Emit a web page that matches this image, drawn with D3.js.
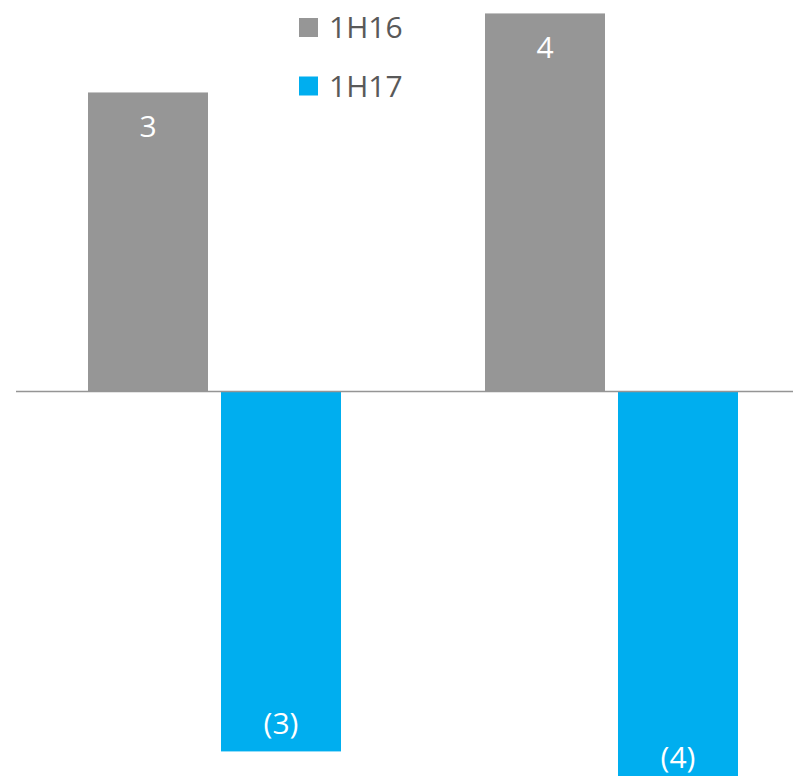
<!DOCTYPE html>
<html>
<head>
<meta charset="utf-8">
<script src="https://cdn.jsdelivr.net/npm/d3@7"></script>
<style>
  html, body { margin: 0; padding: 0; background: #ffffff; }
  svg { display: block; }
</style>
</head>
<body>
<svg id="chart" width="793" height="776"></svg>
<script>
// Half-year comparison, two groups of paired bars
const categories = ["Group A", "Group B"];
const seriesNames = ["1H16", "1H17"];
const values1H16 = [2.8, 3.54];
const values1H17 = [-3.37, -3.69];
const seriesColors = ["#969696", "#00AEEF"];

const W = 793, H = 776;
const svg = d3.select("#chart");

const data = categories.map((c, i) => ({
  category: c,
  bars: [
    { series: seriesNames[0], value: values1H16[i] },
    { series: seriesNames[1], value: values1H17[i] }
  ]
}));

// Group positions; the plot runs past the right edge of the canvas
const x0 = d3.scaleBand().domain(categories).range([16, 810]).padding(0);
const x1 = d3.scaleBand().domain(seriesNames)
  .range([72, x0.bandwidth() - 72])
  .paddingInner(0.0977).paddingOuter(0);

const y = d3.scaleLinear().domain([0, 1]).range([391.5, 391.5 - 106.8]);

const color = d3.scaleOrdinal().domain(seriesNames).range(seriesColors);

// Labels show whole numbers, negatives in parentheses
const fmt = v => {
  const r = Math.round(Math.abs(v));
  return v < 0 ? "(" + r + ")" : String(r);
};

const groups = svg.append("g").selectAll("g")
  .data(data).join("g")
  .attr("transform", d => `translate(${x0(d.category)},0)`);

groups.selectAll("rect")
  .data(d => d.bars).join("rect")
  .attr("x", d => x1(d.series))
  .attr("width", x1.bandwidth())
  .attr("y", d => Math.min(y(d.value), y(0)))
  .attr("height", d => Math.abs(y(d.value) - y(0)))
  .attr("fill", d => color(d.series));

groups.selectAll("text")
  .data(d => d.bars).join("text")
  .attr("x", d => x1(d.series) + x1.bandwidth() / 2)
  .attr("y", d => d.value >= 0 ? y(d.value) + 33.5 : y(d.value) - 29)
  .attr("text-anchor", "middle")
  .attr("dominant-baseline", "central")
  .attr("font-family", "'Open Sans', sans-serif")
  .attr("font-size", 30)
  .attr("fill", "#ffffff")
  .text(d => fmt(d.value));

// Zero line
svg.append("line")
  .attr("x1", 16).attr("x2", W)
  .attr("y1", y(0)).attr("y2", y(0))
  .attr("stroke", "#959595")
  .attr("stroke-width", 1.5);

// Legend
const legend = svg.append("g").attr("transform", "translate(299,0)");
const items = legend.selectAll("g")
  .data(seriesNames).join("g")
  .attr("transform", (d, i) => `translate(0,${27.5 + i * 58.5})`);
items.append("rect")
  .attr("x", 0).attr("y", -9.5)
  .attr("width", 19).attr("height", 19)
  .attr("fill", d => color(d));
items.append("text")
  .attr("x", 30).attr("y", -1)
  .attr("dominant-baseline", "central")
  .attr("font-family", "'Open Sans', sans-serif")
  .attr("font-size", 30)
  .attr("fill", "#595959")
  .text(d => d);
</script>
</body>
</html>
